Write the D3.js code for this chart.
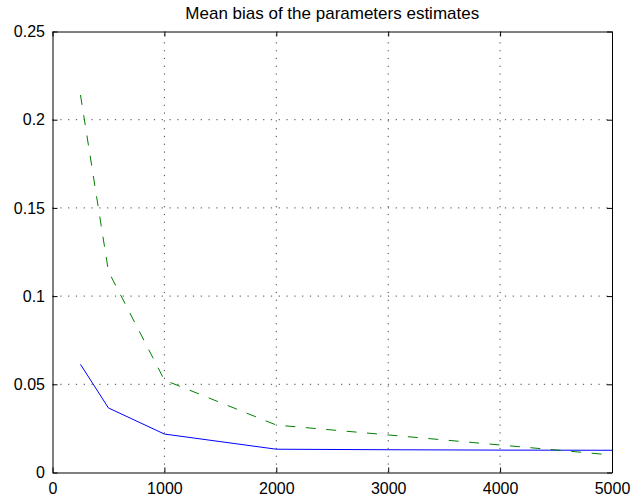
<!DOCTYPE html>
<html lang="en">
  <head>
    <meta charset="utf-8" />
    <title>Mean bias of the parameters estimates</title>
    <script type="text/javascript" src="https://d3js.org/d3.v7.min.js"></script>
    <style>
      body {
        margin: 0;
        background: white;
      }
      text {
        font-family: Helvetica, Arial, "Liberation Sans", sans-serif;
        fill: black;
      }
      .axis path {
        stroke: black;
        stroke-width: 1px;
      }
      .axis line {
        stroke: black;
        stroke-width: 1px;
      }
      .axis text {
        font-size: 16px;
      }
      .grid line {
        stroke: #444;
        stroke-width: 1px;
        stroke-dasharray: 1.2, 6.6;
      }
      path.line_blue {
        fill: none;
        stroke: #0000ff;
        stroke-width: 1px;
      }
      path.line_green {
        fill: none;
        stroke: #008000;
        stroke-width: 1px;
        stroke-dasharray: 10, 10.5;
      }
    </style>
  </head>

  <body>
    <script>
      // data
      let sampleSizes = [250, 500, 1000, 2000, 3000, 4000, 5000];
      let biasBlue = [0.0613, 0.0366, 0.0218, 0.0132, 0.0129, 0.0127, 0.0126];
      let biasGreen = [0.214, 0.114, 0.0524, 0.0269, 0.0213, 0.0156, 0.0099];

      let xTicks = [0, 1000, 2000, 3000, 4000, 5000];
      let xTickLabels = ["0", "1000", "2000", "3000", "4000", "5000"];
      let yTicks = [0, 0.05, 0.1, 0.15, 0.2, 0.25];
      let yTickLabels = ["0", "0.05", "0.1", "0.15", "0.2", "0.25"];

      let titleText = "Mean bias of the parameters estimates";

      let w = 631;
      let h = 502;
      let mLeft = 52.5,
        mRight = 612,
        mTop = 31.5,
        mBottom = 472.5;

      let svg = d3
        .select("body")
        .append("svg")
        .attr("width", w)
        .attr("height", h);

      let x_scale = d3.scaleLinear().domain([0, 5000]).range([mLeft, mRight]);
      let y_scale = d3.scaleLinear().domain([0, 0.25]).range([mBottom, mTop]);

      // dotted grid
      let grid = svg.append("g").attr("class", "grid");
      grid
        .selectAll("line.gx")
        .data(xTicks.slice(1, -1))
        .join("line")
        .attr("class", "gx")
        .attr("x1", (d) => x_scale(d))
        .attr("x2", (d) => x_scale(d))
        .attr("y1", mBottom)
        .attr("y2", mTop);
      grid
        .selectAll("line.gy")
        .data(yTicks.slice(1, -1))
        .join("line")
        .attr("class", "gy")
        .attr("x1", mLeft)
        .attr("x2", mRight)
        .attr("y1", (d) => y_scale(d))
        .attr("y2", (d) => y_scale(d));

      // lines
      let line = d3
        .line()
        .x((d, i) => x_scale(sampleSizes[i]))
        .y((d) => y_scale(d));

      svg
        .append("path")
        .attr("d", line(biasBlue))
        .attr("class", "line_blue");

      svg
        .append("path")
        .attr("d", line(biasGreen))
        .attr("class", "line_green");

      // axes, ticks pointing inwards
      let x_axis = d3
        .axisBottom(x_scale)
        .tickValues(xTicks)
        .tickFormat((d, i) => xTickLabels[i])
        .tickSizeInner(-5)
        .tickSizeOuter(0)
        .tickPadding(10);
      let y_axis = d3
        .axisLeft(y_scale)
        .tickValues(yTicks)
        .tickFormat((d, i) => yTickLabels[i])
        .tickSizeInner(-5)
        .tickSizeOuter(0)
        .tickPadding(7.5);
      let x_axis_top = d3
        .axisTop(x_scale)
        .tickValues(xTicks)
        .tickFormat("")
        .tickSizeInner(-5)
        .tickSizeOuter(0);
      let y_axis_right = d3
        .axisRight(y_scale)
        .tickValues(yTicks)
        .tickFormat("")
        .tickSizeInner(-5)
        .tickSizeOuter(0);

      svg
        .append("g")
        .attr("class", "x axis")
        .attr("transform", `translate(0,${mBottom})`)
        .call(x_axis);
      svg
        .append("g")
        .attr("class", "y axis")
        .attr("transform", `translate(${mLeft},0)`)
        .call(y_axis);
      svg
        .append("g")
        .attr("class", "x axis top")
        .attr("transform", `translate(0,${mTop})`)
        .call(x_axis_top);
      svg
        .append("g")
        .attr("class", "y axis right")
        .attr("transform", `translate(${mRight},0)`)
        .call(y_axis_right);

      svg.selectAll(".axis").attr("font-family", null).attr("font-size", null);

      svg
        .append("text")
        .attr("x", (mLeft + mRight) / 2)
        .attr("y", 18.5)
        .attr("text-anchor", "middle")
        .style("font-size", "17px")
        .text(titleText);
    </script>
  </body>
</html>
